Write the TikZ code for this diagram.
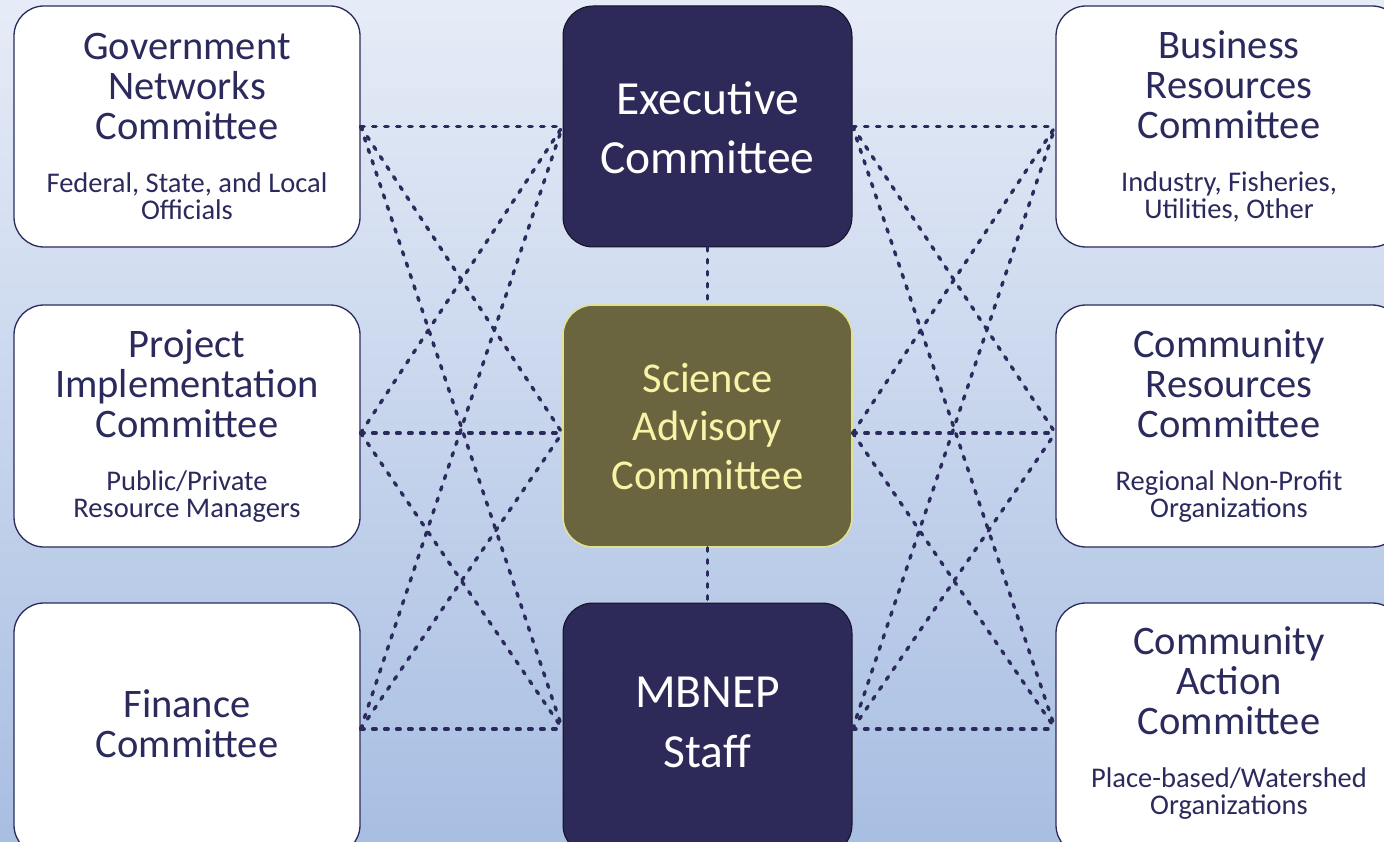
\documentclass[tikz,border=0pt]{standalone}
\usepackage{fontspec}
\setmainfont{Carlito}
\definecolor{ink}{HTML}{2B2A5C}
\definecolor{darkfill}{HTML}{2D2A5A}
\definecolor{olive}{HTML}{6A653E}
\definecolor{oliveedge}{HTML}{E0E290}
\definecolor{paleyellow}{HTML}{F7F4A8}
\definecolor{bgtop}{HTML}{E6ECF7}
\definecolor{bgbot}{HTML}{A8BEE2}
\begin{document}
\begin{tikzpicture}[x=1pt,y=-1pt,
  sidebox/.style={draw=ink, line width=1.3pt, fill=white, rounded corners=30pt, minimum width=346pt, inner sep=0pt},
  midbox/.style={draw=black!60!darkfill, line width=1pt, fill=darkfill, rounded corners=30pt, minimum width=289pt, inner sep=0pt},
  scibox/.style={draw=oliveedge, line width=1.6pt, fill=olive, rounded corners=30pt, minimum width=289pt, inner sep=0pt},
  ttl/.style={text=ink, align=center, font=\fontsize{40.5}{40}\selectfont, inner sep=0pt},
  subt/.style={text=ink, align=center, font=\fontsize{28.5}{27}\selectfont, inner sep=0pt},
  bigt/.style={align=center, font=\fontsize{47.5}{59}\selectfont, inner sep=0pt},
  link/.style={draw=ink, line width=3.4pt, line cap=round, dash pattern=on 3.5pt off 8.5pt}]
\useasboundingbox (0,0) rectangle (1384,842);
\clip (0,0) rectangle (1384,842);
\shade[top color=bgtop, bottom color=bgbot] (0,0) rectangle (1384,842);

% left column
\node[sidebox, minimum height=241pt] (gov) at (187,126.5) {};
\node[sidebox, minimum height=242pt] (proj) at (187,426) {};
\node[sidebox, minimum height=252pt] (fin) at (187,729) {};
% right column
\node[sidebox, minimum height=241pt] (bus) at (1229,126.5) {};
\node[sidebox, minimum height=242pt] (cres) at (1229,426) {};
\node[sidebox, minimum height=252pt] (cact) at (1229,729) {};
% centre column
\node[midbox, minimum height=241pt] (exec) at (707.5,126.5) {};
\node[scibox, minimum height=242pt] (sci) at (707.5,426) {};
\node[midbox, minimum height=252pt] (staff) at (707.5,729) {};

% texts
\node[ttl] (govT) at (187,87) {Government\\Networks\\Committee};
\node[subt] (govS) at (187,196) {Federal, State, and Local\\Officials};
\node[ttl] (projT) at (187,384) {Project\\Implementation\\Committee};
\node[subt] (projS) at (187,497) {Public/Private\\Resource Managers};
\node[ttl] (finT) at (187,724) {Finance\\Committee};
\node[ttl] (busT) at (1229,85) {Business\\Resources\\Committee};
\node[subt] (busS) at (1229,197) {Industry, Fisheries,\\Utilities, Other};
\node[ttl] (cresT) at (1229,384) {Community\\Resources\\Committee};
\node[subt] (cresS) at (1229,497) {Regional Non-Profit\\Organizations};
\node[ttl] (cactT) at (1229,681) {Community\\Action\\Committee};
\node[subt] (cactS) at (1229,794) {Place-based/Watershed\\Organizations};
\node[bigt, text=white] (execT) at (707.5,127.5) {Executive\\Committee};
\node[bigt, text=paleyellow, font=\fontsize{42.5}{48.5}\selectfont] (sciT) at (707.5,426.5) {Science\\Advisory\\Committee};
\node[bigt, text=white, font=\fontsize{47.5}{60}\selectfont] (staffT) at (707.5,722) {MBNEP\\Staff};

% connection points
\coordinate (l1) at (gov.east);
\coordinate (l2) at ([yshift=-7pt]proj.east);
\coordinate (l3) at (fin.east);
\coordinate (r1) at (bus.west);
\coordinate (r2) at ([yshift=-7pt]cres.west);
\coordinate (r3) at (cact.west);
\coordinate (cl1) at (exec.west);
\coordinate (cl2) at ([yshift=-7pt]sci.west);
\coordinate (cl3) at (staff.west);
\coordinate (cr1) at (exec.east);
\coordinate (cr2) at ([yshift=-7pt]sci.east);
\coordinate (cr3) at (staff.east);

\foreach \a in {1,2,3}{
  \foreach \b in {1,2,3}{
    \draw[link] (l\a) -- (cl\b);
    \draw[link] (cr\a) -- (r\b);
  }
}
\draw[link] (exec.south) -- (sci.north);
\draw[link] (sci.south) -- (staff.north);
\end{tikzpicture}
\end{document}
